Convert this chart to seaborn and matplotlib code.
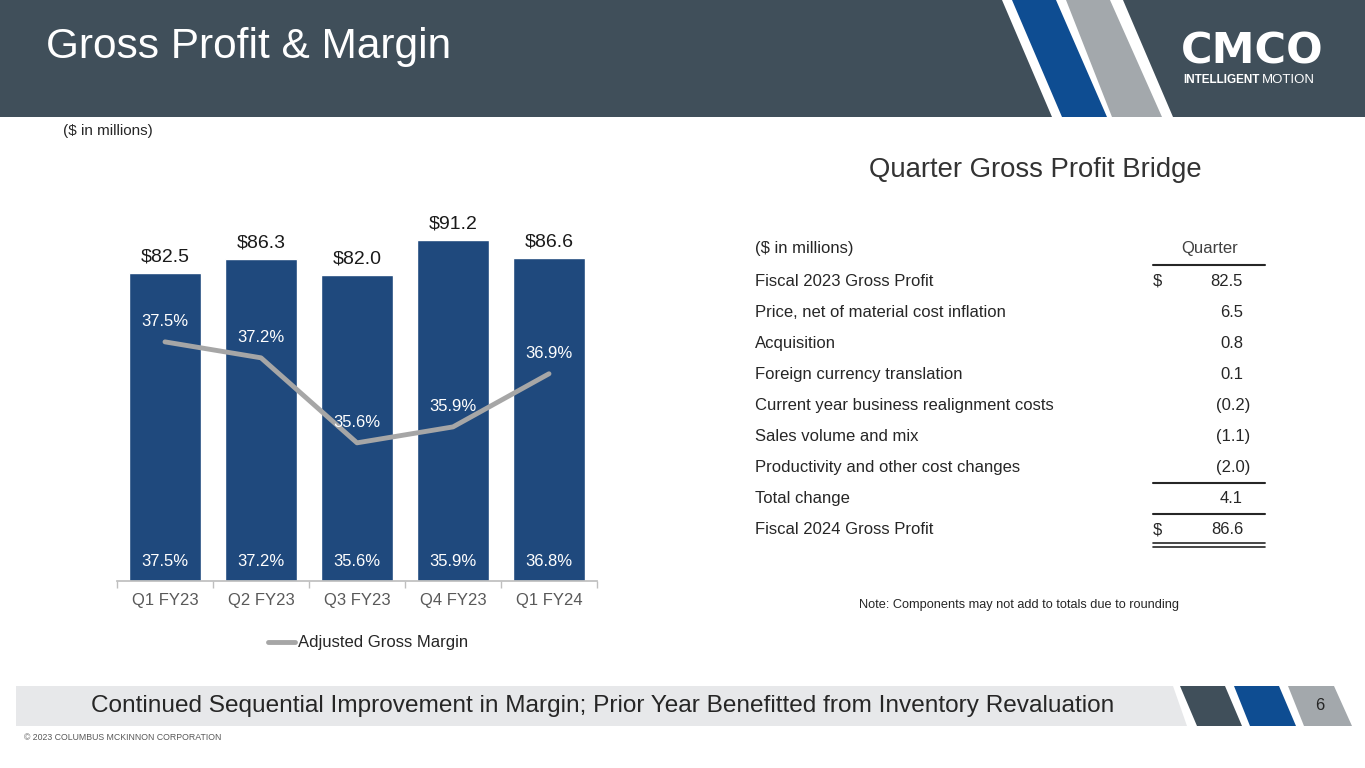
import numpy as np
import pandas as pd
import seaborn as sns
import matplotlib.pyplot as plt
from matplotlib.patches import Polygon, Rectangle
from matplotlib.lines import Line2D

W, H = 1365, 768

# chart data
quarters = ["Q1 FY23", "Q2 FY23", "Q3 FY23", "Q4 FY23", "Q1 FY24"]
gross_profit = [82.5, 86.3, 82.0, 91.2, 86.6]
adj_margin = [37.5, 37.2, 35.6, 35.9, 36.9]
gross_margin = [37.5, 37.2, 35.6, 35.9, 36.8]

# bridge table data
bridge_items = ["Fiscal 2023 Gross Profit", "Price, net of material cost inflation",
                "Acquisition", "Foreign currency translation",
                "Current year business realignment costs", "Sales volume and mix",
                "Productivity and other cost changes", "Total change",
                "Fiscal 2024 Gross Profit"]
bridge_values = [82.5, 6.5, 0.8, 0.1, -0.2, -1.1, -2.0, 4.1, 86.6]
bridge_dollar = [True, False, False, False, False, False, False, False, True]

HEADER = "#404F5A"
BLUE = "#0E4D92"
GREY = "#A3A8AC"
BAR = "#1F497D"
LINE = "#A6A6A6"
TXT = "#262626"

sns.set_theme(style="white")
plt.rcParams['font.family'] = ['Liberation Sans', 'DejaVu Sans']

fig = plt.figure(figsize=(W / 100, H / 100), dpi=100)


def fx(x):
    return x / W


def fy(y):
    return 1 - y / H


def poly(pts, color):
    fig.add_artist(Polygon([(fx(x), fy(y)) for x, y in pts], closed=True,
                           transform=fig.transFigure, facecolor=color, edgecolor='none'))


def hline(x0, x1, y, lw=1.2, color=TXT):
    fig.add_artist(Line2D([fx(x0), fx(x1)], [fy(y), fy(y)], transform=fig.transFigure,
                          color=color, lw=lw))


#header band
fig.add_artist(Rectangle((0, fy(117)), 1, 117 / H, transform=fig.transFigure,
                         facecolor=HEADER, edgecolor='none'))
poly([(1002, 0), (1123, 0), (1173, 117), (1052, 117)], "white")
poly([(1012, 0), (1056, 0), (1107, 117), (1062, 117)], BLUE)
poly([(1066, 0), (1110, 0), (1162, 117), (1112, 117)], GREY)
fig.text(fx(46), fy(47), "Gross Profit & Margin", color="white", fontsize=30.5,
         ha="left", va="center")
fig.text(fx(1252), fy(52), "CMCO", color="white", fontsize=31, fontweight="bold",
         ha="center", va="center", family="DejaVu Sans")
fig.text(fx(1183), fy(80), "INTELLIGENT", color="white", fontsize=8.5,
         fontweight="bold", ha="left", va="center")
fig.text(fx(1262), fy(80), "MOTION", color="white", fontsize=9.5,
         ha="left", va="center")

fig.text(fx(63), fy(131), "($ in millions)", color=TXT, fontsize=11, ha="left", va="center")

#bar chart
df = pd.DataFrame({"quarter": quarters, "gross_profit": gross_profit,
                   "adj_margin": adj_margin, "gross_margin": gross_margin})

ax = fig.add_axes([fx(117), fy(581), 480 / W, 381 / H])
ax.set_facecolor("none")
sns.barplot(data=df, x="quarter", y="gross_profit", color=BAR, saturation=1,
            width=0.74, ax=ax)
ax.set_xlim(-0.5, 4.5)
ax.set_ylim(0, 102)
ax.set_yticks([])
ax.set_xlabel("")
ax.set_ylabel("")
sns.despine(ax=ax, left=True)
ax.spines["bottom"].set_color("#BFBFBF")
ax.set_xticks(np.arange(len(quarters) + 1) - 0.5, minor=True)
ax.tick_params(axis="x", which="major", length=0, labelsize=12, labelcolor="#595959", pad=9)
ax.tick_params(axis="x", which="minor", bottom=True, length=5, width=1, color="#BFBFBF")

for i, v in enumerate(gross_profit):
    ax.annotate(f"${v:.1f}", (i, v), xytext=(0, 16), textcoords="offset pixels",
                ha="center", va="center", fontsize=14, color="#1a1a1a")
for i, m in enumerate(gross_margin):
    ax.annotate(f"{m:.1f}%", (i, 0), xytext=(0, 20), textcoords="offset pixels",
                ha="center", va="center", fontsize=12, color="white")

ax2 = ax.twinx()
sns.lineplot(data=df, x="quarter", y="adj_margin", ax=ax2, color=LINE, lw=3.5,
             legend=False)
ax2.set_ylim(33.0, 40.17)
ax2.set_axis_off()
for i, m in enumerate(adj_margin):
    ax2.annotate(f"{m:.1f}%", (i, m), xytext=(0, 20), textcoords="offset pixels",
                 ha="center", va="center", fontsize=12, color="white")

fig.legend([Line2D([], [], color=LINE, lw=3.5)], ["Adjusted Gross Margin"],
           loc="center", bbox_to_anchor=(fx(368), fy(643)), frameon=False,
           fontsize=12, handlelength=1.6, handletextpad=0.15, labelcolor=TXT)

#bridge table
fig.text(fx(1035), fy(170), "Quarter Gross Profit Bridge", color="#333333",
         fontsize=19.8, ha="center", va="center")
fig.text(fx(755), fy(248), "($ in millions)", color=TXT, fontsize=12, ha="left", va="center")
fig.text(fx(1210), fy(248), "Quarter", color="#404040", fontsize=12, ha="center", va="center")
hline(1153, 1265, 265, lw=1.5)

row_y = 281
for item, val, dollar in zip(bridge_items, bridge_values, bridge_dollar):
    fig.text(fx(755), fy(row_y), item, color=TXT, fontsize=12, ha="left", va="center")
    if dollar:
        fig.text(fx(1153), fy(row_y), "$", color=TXT, fontsize=12, ha="left", va="center")
    if val < 0:
        fig.text(fx(1250), fy(row_y), f"({abs(val):.1f})", color=TXT, fontsize=12,
                 ha="right", va="center")
    else:
        fig.text(fx(1243), fy(row_y), f"{val:.1f}", color=TXT, fontsize=12,
                 ha="right", va="center")
    row_y += 31.1

hline(1153, 1265, 483, lw=1.5)
hline(1153, 1265, 514, lw=1.5)
hline(1153, 1265, 543, lw=1.2)
hline(1153, 1265, 546.5, lw=1.2)

fig.text(fx(859), fy(605), "Note: Components may not add to totals due to rounding",
         color=TXT, fontsize=9.2, ha="left", va="center")

#footer
poly([(16, 686), (1173, 686), (1187, 726), (16, 726)], "#E7E8EA")
poly([(1180, 686), (1225, 686), (1242, 726), (1197, 726)], HEADER)
poly([(1234, 686), (1279, 686), (1296, 726), (1250, 726)], BLUE)
poly([(1288, 686), (1334, 686), (1352, 726), (1304, 726)], GREY)
fig.text(fx(603), fy(706),
         "Continued Sequential Improvement in Margin; Prior Year Benefitted from Inventory Revaluation",
         color=TXT, fontsize=17.6, ha="center", va="center")
fig.text(fx(1320), fy(705), "6", color=TXT, fontsize=12, ha="center", va="center")
fig.text(fx(24), fy(738), "© 2023 COLUMBUS MCKINNON CORPORATION", color="#595959",
         fontsize=6.3, ha="left", va="center")

fig.savefig("out.png", dpi=100)
